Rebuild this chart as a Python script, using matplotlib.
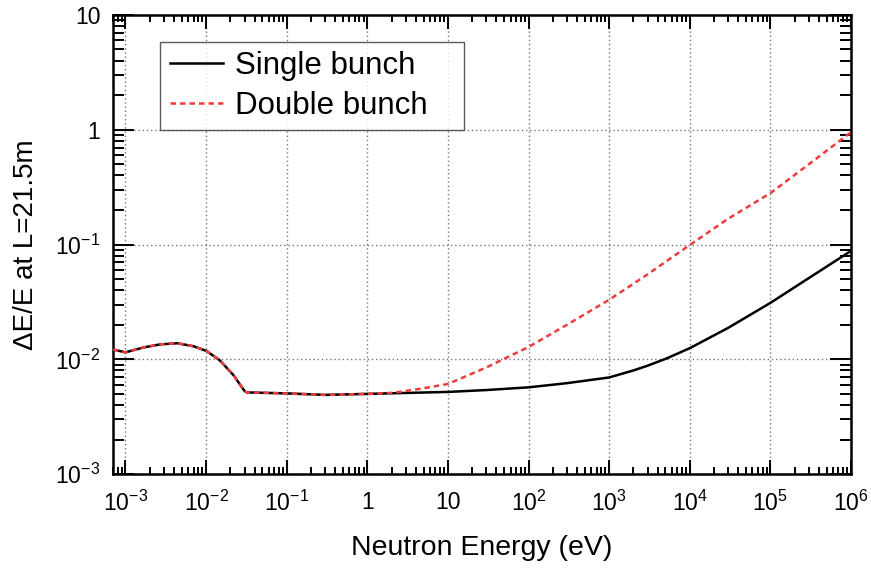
import math
import matplotlib
matplotlib.use("Agg")
import matplotlib.pyplot as plt
from matplotlib.ticker import LogLocator, FixedLocator, FuncFormatter, NullFormatter

plt.rcParams['font.family'] = ['Liberation Sans', 'DejaVu Sans']
plt.rcParams['mathtext.fontset'] = 'custom'
plt.rcParams['mathtext.rm'] = 'Liberation Sans'
plt.rcParams['mathtext.it'] = 'Liberation Sans:italic'
plt.rcParams['mathtext.default'] = 'rm'

# Values (energy in eV, dE/E)
single_E = [7e-4, 1e-3, 1.68e-3, 2.7e-3, 4.4e-3, 7e-3, 1.02e-2, 1.48e-2, 2.18e-2, 3.0e-2, 3.2e-2,
            0.1, 0.3, 1, 10, 30, 100, 300, 1e3, 2e3, 3e3, 5.2e3, 1e4, 3e4,
            1e5, 3e5, 1e6]
single_res = [0.0122, 0.0115, 0.0127, 0.0135, 0.0138, 0.0130, 0.0118, 0.0098, 0.0073, 0.0053, 0.00515,
              0.00505, 0.0049, 0.0050, 0.0052, 0.0054, 0.0057, 0.0062, 0.00695, 0.0080, 0.0088, 0.0102,
              0.0125, 0.0188, 0.031, 0.051, 0.088]

double_E = [7e-4, 1e-3, 1.68e-3, 2.7e-3, 4.4e-3, 7e-3, 1.02e-2, 1.48e-2, 2.18e-2, 3.0e-2, 3.2e-2,
            0.1, 0.3, 1, 2, 3, 5, 10, 30, 100, 300, 1e3, 3e3, 1e4, 3e4, 1e5, 3e5, 1e6]
double_res = [0.0122, 0.0115, 0.0127, 0.0135, 0.0138, 0.0130, 0.0118, 0.0098, 0.0073, 0.0053, 0.00515,
              0.00505, 0.0049, 0.0050, 0.0051, 0.0053, 0.0056, 0.0061, 0.0085, 0.0128,
              0.0200, 0.033, 0.055, 0.099, 0.168, 0.28, 0.50, 0.95]

x_ticks = [1e-3, 1e-2, 1e-1, 1, 10, 1e2, 1e3, 1e4, 1e5, 1e6]
y_ticks = [1e-3, 1e-2, 1e-1, 1, 10]


def log_label(v, pos):
    if v == 1:
        return "1"
    if v == 10:
        return "10"
    e = int(round(math.log10(v)))
    return r"$10^{%d}$" % e


fig = plt.figure(figsize=(8.71, 5.74), dpi=100)
ax = fig.add_axes([0.1297, 0.174, 0.8473, 0.80])

ax.plot(single_E, single_res, color='black', lw=1.8, label='Single bunch', zorder=3)
ax.plot(double_E, double_res, color='#f03c3c', lw=1.8, ls=(0, (2.2, 1.6)),
        label='Double bunch', zorder=4)

ax.set_xscale('log')
ax.set_yscale('log')
ax.set_xlim(7e-4, 1e6)
ax.set_ylim(1e-3, 10)

ax.xaxis.set_major_locator(FixedLocator(x_ticks))
ax.yaxis.set_major_locator(FixedLocator(y_ticks))
ax.xaxis.set_minor_locator(LogLocator(base=10, subs=range(2, 10), numticks=30))
ax.yaxis.set_minor_locator(LogLocator(base=10, subs=range(2, 10), numticks=30))
ax.xaxis.set_major_formatter(FuncFormatter(log_label))
ax.yaxis.set_major_formatter(FuncFormatter(log_label))
ax.xaxis.set_minor_formatter(NullFormatter())
ax.yaxis.set_minor_formatter(NullFormatter())

ax.tick_params(which='both', direction='in', top=True, right=True, width=1.4, labelsize=16.5)
ax.tick_params(axis='x', which='major', length=10, pad=12)
ax.tick_params(axis='x', which='minor', length=5)
ax.tick_params(axis='y', which='major', length=15, pad=9)
ax.tick_params(axis='y', which='minor', length=8)

for s in ax.spines.values():
    s.set_linewidth(1.8)

ax.grid(True, which='major', ls=(0, (1, 2)), color='#777777', lw=1.0)

ax.set_xlabel('Neutron Energy (eV)', fontsize=20.5, labelpad=14)
ax.set_ylabel('ΔE/E at L=21.5m', fontsize=20, labelpad=12)

# legend box stretched to the reference frame width
leg = ax.legend(loc='upper left', bbox_to_anchor=(0.064, 0.754, 0.411, 0.187), mode='expand',
                borderaxespad=0, fontsize=22.5, frameon=True, fancybox=False, handlelength=1.7,
                handletextpad=0.4, labelspacing=0.3, borderpad=0.3)
leg.get_frame().set_edgecolor('#333333')
leg.get_frame().set_linewidth(1.0)

fig.savefig('out.png', dpi=100)
